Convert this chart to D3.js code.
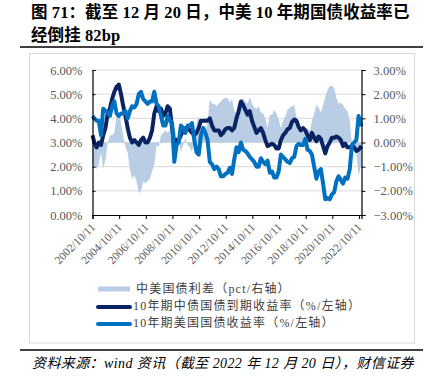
<!DOCTYPE html>
<html><head><meta charset="utf-8">
<script src="https://cdn.jsdelivr.net/npm/d3@7"></script>
<style>
html,body{margin:0;padding:0;background:#fff;}
svg{display:block;}
</style></head>
<body>
<svg id="c" width="428" height="382"></svg>
<script>
// ---- data (bi-monthly readings, Oct 2002 – 20 Dec 2022) ----
const startDate = "2002-10-11";
const endDate = "2022-12-20";
// China 10Y government bond yield (%)
const cn10y = [3.3,3.0,
 2.8,3.0,2.9,3.3,3.6,4.2,
 4.4,4.8,5.1,5.3,5.4,5.0,
 4.5,4.1,3.6,3.2,3.0,3.1,
 3.0,2.9,3.1,3.2,3.0,3.0,
 3.2,3.5,4.2,4.5,4.3,4.4,
 4.1,4.2,4.5,4.4,3.6,2.9,
 3.1,3.1,3.3,3.5,3.6,3.6,
 3.5,3.4,3.3,3.4,3.6,3.9,
 3.9,3.9,3.9,4.0,3.7,3.5,
 3.5,3.5,3.3,3.4,3.55,3.6,
 3.6,3.5,3.6,4.0,4.3,4.7,
 4.55,4.35,4.15,4.3,3.9,3.65,
 3.4,3.5,3.6,3.4,3.1,2.85,
 2.9,2.95,2.9,2.75,2.75,3.1,
 3.3,3.4,3.55,3.6,3.85,3.95,
 3.9,3.65,3.5,3.6,3.5,3.3,
 3.1,3.4,3.2,3.05,3.25,3.15,
 2.85,2.55,2.85,3.0,3.2,3.2,
 3.25,3.2,3.1,2.85,2.95,2.8,
 2.8,2.85,2.8,2.65,2.7,2.85];
// US 10Y Treasury yield (%)
const us10y = [4.1,4.0,
 3.9,3.9,3.3,4.4,4.3,4.25,
 4.1,4.5,4.7,4.2,4.1,4.2,
 4.2,4.3,4.0,4.3,4.5,4.45,
 4.6,5.0,5.1,4.8,4.7,4.6,
 4.7,4.7,5.1,4.6,4.5,4.1,
 3.7,3.7,4.1,3.9,3.8,2.2,
 2.9,3.0,3.7,3.6,3.4,3.7,
 3.7,3.8,3.1,2.6,2.5,3.3,
 3.6,3.4,3.1,2.2,2.1,1.9,
 2.0,1.9,1.6,1.6,1.7,1.75,
 1.95,1.7,2.3,2.8,2.6,3.0,
 2.7,2.65,2.55,2.4,2.3,2.2,
 2.0,2.0,2.35,2.2,2.1,2.25,
 1.75,1.8,1.55,1.55,1.8,2.5,
 2.4,2.3,2.2,2.15,2.35,2.4,
 2.85,2.95,2.9,2.9,3.15,2.7,
 2.65,2.5,2.0,1.5,1.8,1.9,
 1.3,0.65,0.7,0.65,0.85,0.95,
 1.4,1.6,1.45,1.3,1.55,1.5,
 1.9,2.9,3.0,3.1,4.1,3.67];
// China-US spread (pct)
const spread = [-0.8,-1.0,
 -1.1,-0.9,-0.4,-1.1,-0.7,-0.05,
 0.3,0.3,0.4,1.1,1.3,0.8,
 0.3,-0.2,-0.4,-1.1,-1.5,-1.35,
 -1.6,-2.1,-2.0,-1.6,-1.7,-1.6,
 -1.5,-1.2,-0.9,-0.1,-0.2,0.3,
 0.4,0.5,0.4,0.5,-0.2,0.7,
 0.2,0.1,-0.4,-0.1,0.2,-0.1,
 -0.2,-0.4,0.2,0.8,1.1,0.6,
 0.3,0.5,0.8,1.8,1.6,1.6,
 1.5,1.6,1.7,1.8,1.85,1.85,
 1.65,1.8,1.3,1.2,1.7,1.7,
 1.85,1.7,1.6,1.9,1.6,1.45,
 1.4,1.5,1.25,1.2,1.0,0.6,
 1.15,1.15,1.35,1.2,0.95,0.6,
 0.9,1.1,1.35,1.45,1.5,1.55,
 1.05,0.7,0.6,0.7,0.35,0.6,
 0.45,0.9,1.2,1.55,1.45,1.25,
 1.55,1.9,2.15,2.35,2.35,2.25,
 1.85,1.6,1.65,1.55,1.4,1.3,
 0.9,-0.05,-0.2,-0.45,-1.4,-0.82];
const leftTicks = [0,1,2,3,4,5,6];
const rightTicks = [-3,-2,-1,0,1,2,3];
const xTickLabels = ["2002/10/11","2004/10/11","2006/10/11","2008/10/11","2010/10/11","2012/10/11","2014/10/11","2016/10/11","2018/10/11","2020/10/11","2022/10/11"];
const seriesNames = ["中美国债利差（pct/右轴）","10年期中债国债到期收益率（%/左轴）","10年期美国国债收益率（%/左轴）"];
const titleLines = ["图 71：截至 12 月 20 日，中美 10 年期国债收益率已","经倒挂 82bp"];
const sourceText = "资料来源：wind 资讯（截至 2022 年 12 月 20 日），财信证券";

// ---- build dates ----
const parse = d3.timeParse("%Y-%m-%d");
const parseTick = d3.timeParse("%Y/%m/%d");
const dates = [parse(startDate)];
for (let y = 2002; y <= 2022; y++) {
  for (let m = 2; m <= 12; m += 2) {
    if (y === 2002 && m < 12) continue;
    if (y === 2022 && m === 12) continue;
    dates.push(new Date(y, m - 1, 1));
  }
}
dates.push(parse(endDate));
const rows = dates.map((d, i) => ({d, cn: cn10y[i], us: us10y[i], sp: spread[i]}));

const svg = d3.select("#c");
const serif = "'Liberation Serif','Times New Roman','Noto Sans CJK SC',serif";
const cjk = "'Liberation Serif','Noto Sans CJK SC',sans-serif";

// title
svg.append("g").selectAll("text").data(titleLines).join("text")
  .attr("x", 31).attr("y", (d, i) => 18 + i * 23)
  .attr("font-family", cjk).attr("font-weight", "bold").attr("font-size", 16.5)
  .attr("letter-spacing", 0.1)
  .attr("fill", "#000").text(d => d);
svg.append("line").attr("x1", 20).attr("x2", 423).attr("y1", 47).attr("y2", 47)
  .attr("stroke", "#000").attr("stroke-width", 1.5);

// frame
svg.append("rect").attr("x", 29.5).attr("y", 53.5).attr("width", 385).attr("height", 289.5)
  .attr("fill", "none").attr("stroke", "#d9d9d9").attr("stroke-width", 1);

// scales
const M = {l: 92.5, r: 361.5, t: 70, b: 215};
const x = d3.scaleTime().domain([parse(startDate), parse(endDate)]).range([M.l, M.r]);
const yL = d3.scaleLinear().domain([0, 6]).range([M.b, M.t]);
const yR = d3.scaleLinear().domain([-3, 3]).range([M.b, M.t]);

// gridlines
svg.append("g").selectAll("line").data(leftTicks.slice(1)).join("line")
  .attr("x1", M.l).attr("x2", M.r).attr("y1", d => yL(d)).attr("y2", d => yL(d))
  .attr("stroke", "#d9d9d9").attr("stroke-width", 1);

// spread area
svg.append("path").datum(rows)
  .attr("d", d3.area().x(r => x(r.d)).y0(yR(0)).y1(r => yR(r.sp)))
  .attr("fill", "#b9cde5");

// lines
svg.append("path").datum(rows)
  .attr("d", d3.line().x(r => x(r.d)).y(r => yL(r.cn)))
  .attr("fill", "none").attr("stroke", "#0a2463").attr("stroke-width", 4).attr("stroke-linejoin", "round");
svg.append("path").datum(rows)
  .attr("d", d3.line().x(r => x(r.d)).y(r => yL(r.us)))
  .attr("fill", "none").attr("stroke", "#0070c0").attr("stroke-width", 4).attr("stroke-linejoin", "round");

// axes
const fmt = d3.format(".2f");
const gL = svg.append("g").attr("transform", `translate(${M.l},0)`)
  .call(d3.axisLeft(yL).tickValues(leftTicks).tickSize(-3).tickPadding(10).tickFormat(d => fmt(d) + "%"));
const gR = svg.append("g").attr("transform", `translate(${M.r},0)`)
  .call(d3.axisRight(yR).tickValues(rightTicks).tickSize(4).tickPadding(8).tickFormat(d => fmt(d) + "%"));
const gX = svg.append("g").attr("transform", `translate(0,${M.b})`)
  .call(d3.axisBottom(x).tickValues(xTickLabels.map(s => parseTick(s))).tickSize(4)
    .tickFormat(d3.timeFormat("%Y/%m/%d")));
[gL, gR, gX].forEach(g => {
  g.select(".domain").attr("stroke", "#000").attr("stroke-width", 1.2);
  g.selectAll(".tick line").attr("stroke", "#000");
  g.selectAll("text").attr("font-family", serif).attr("font-size", 12.5).attr("fill", "#595959");
});
gX.selectAll("text")
  .attr("text-anchor", "end").attr("dx", 0).attr("dy", 0)
  .attr("transform", "translate(-2,8) rotate(-45)")
  .attr("font-size", 11.5);

// legend
const lg = svg.append("g");
lg.append("rect").attr("x", 98).attr("y", 286.5).attr("width", 32).attr("height", 5).attr("fill", "#b9cde5");
lg.append("line").attr("x1", 98).attr("x2", 130).attr("y1", 307).attr("y2", 307)
  .attr("stroke", "#0a2463").attr("stroke-width", 4).attr("stroke-linecap", "round");
lg.append("line").attr("x1", 98).attr("x2", 130).attr("y1", 324).attr("y2", 324)
  .attr("stroke", "#0070c0").attr("stroke-width", 4).attr("stroke-linecap", "round");
lg.selectAll("text").data(seriesNames).join("text")
  .attr("x", (d, i) => i === 0 ? 136 : 133).attr("y", (d, i) => 293 + i * 17)
  .attr("font-family", cjk).attr("font-size", 12).attr("letter-spacing", 1.2)
  .attr("fill", "#404040").text(d => d);

// source
svg.append("line").attr("x1", 20).attr("x2", 423).attr("y1", 350).attr("y2", 350)
  .attr("stroke", "#000").attr("stroke-width", 1.5);
svg.append("text").attr("x", 32).attr("y", 368)
  .attr("font-family", cjk).attr("font-style", "italic").attr("font-size", 14)
  .attr("letter-spacing", 0.4)
  .attr("fill", "#000").text(sourceText);
</script>
</body></html>
